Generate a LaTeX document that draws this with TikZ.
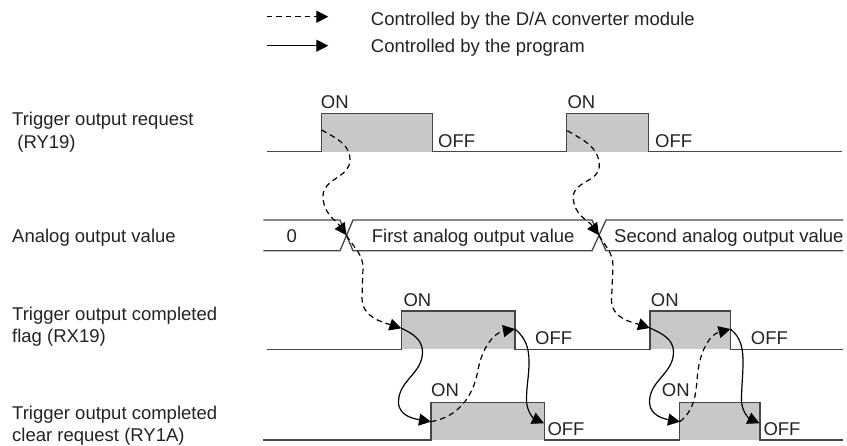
\documentclass[tikz,border=0pt]{standalone}
\usepackage{fontspec}
\setmainfont{Liberation Sans}
\usepackage{tikz}
\usetikzlibrary{arrows.meta}
\definecolor{wavegray}{RGB}{70,70,70}
\definecolor{pulsegray}{RGB}{200,200,200}
\definecolor{txtgray}{RGB}{35,35,35}

\begin{document}
\begin{tikzpicture}[x=1pt, y=1pt,
  wave/.style={draw=wavegray, line width=1.3pt},
  pulse/.style={fill=pulsegray},
  lbl/.style={font=\fontsize{18.5}{22.2}\selectfont, text=txtgray, inner sep=0pt},
  sig/.style={lbl, align=left, anchor=west},
  onoff/.style={lbl, anchor=base west},
  ctl/.style={-{Triangle[length=12pt, width=12pt]}, line width=1.2pt},
  dactl/.style={ctl, dash pattern=on 5.5pt off 4pt},
  prgctl/.style={ctl}
]
  \useasboundingbox (0,0) rectangle (847,-445);

  %% Legend
  \coordinate (legda0) at (266.7,-16.7);
  \coordinate (legda1) at (328.3,-16.7);
  \coordinate (legpg0) at (266.7,-45.7);
  \coordinate (legpg1) at (328.3,-45.7);
  \draw[dactl]  (legda0) -- (legda1);
  \draw[prgctl] (legpg0) -- (legpg1);
  \node[onoff] (legda) at (370.7,-25.8) {Controlled by the D/A converter module};
  \node[onoff] (legpg) at (370.7,-52.2) {Controlled by the program};

  %% Signal names (left column)
  \node[sig] (ry19) at (12,-132.2) {Trigger output request\\\ (RY19)};
  \node[sig] (aout) at (12,-237.5) {Analog output value};
  \node[sig] (rx19) at (12,-327)   {Trigger output completed\\flag (RX19)};
  \node[sig] (ry1a) at (12,-425.4) {Trigger output completed\\clear request (RY1A)};

  %% RY19 waveform
  \fill[pulse] (321.7,-113.3) rectangle (432.3,-151.7);
  \fill[pulse] (566.7,-113.3) rectangle (648.3,-151.7);
  \draw[wave] (266.7,-151.7) -| (321.7,-113.3) -| (432.3,-151.7)
              -| (566.7,-113.3) -| (648.3,-151.7) -- (841.7,-151.7);
  \node[onoff] (on1)  at (320.7,-108.3) {ON};
  \node[onoff] (off1) at (438,-147.7)   {OFF};
  \node[onoff] (on2)  at (567.3,-108.3) {ON};
  \node[onoff] (off2) at (655,-147.7)   {OFF};

  %% Analog output value (bus with two changes)
  \draw[wave] (263.3,-220) -- (340,-220) -- (353,-250.7) -- (592,-250.7)
              -- (606,-220) -- (843.3,-220);
  \draw[wave] (263.3,-250.7) -- (340,-250.7) -- (353,-220) -- (592,-220)
              -- (606,-250.7) -- (843.3,-250.7);
  \node[lbl, anchor=base] (val0) at (291.7,-242.3) {0};
  \node[onoff] (val1) at (371.7,-242.3) {First analog output value};
  \node[onoff] (val2) at (614,-242.3)   {Second analog output value};

  %% RX19 waveform
  \fill[pulse] (401.7,-311) rectangle (515,-349.3);
  \fill[pulse] (650,-311) rectangle (730.7,-349.3);
  \draw[wave] (266.7,-349.3) -| (401.7,-311) -| (515,-349.3)
              -| (650,-311) -| (730.7,-349.3) -- (843,-349.3);
  \node[onoff] (on3)  at (403.3,-306.7) {ON};
  \node[onoff] (off3) at (535,-344)     {OFF};
  \node[onoff] (on4)  at (650.7,-306.7) {ON};
  \node[onoff] (off4) at (750.7,-344)   {OFF};

  %% RY1A waveform
  \fill[pulse] (431,-402.3) rectangle (544.3,-440);
  \fill[pulse] (679.3,-402.3) rectangle (760,-440);
  \draw[wave] (263.3,-440) -| (431,-402.3) -| (544.3,-440)
              -| (679.3,-402.3) -| (760,-440) -- (843,-440);
  \node[onoff] (on5)  at (431,-396.7)   {ON};
  \node[onoff] (off5) at (547.3,-435)   {OFF};
  \node[onoff] (on6)  at (661.7,-396.7) {ON};
  \node[onoff] (off6) at (763.3,-435)   {OFF};

  %% Arrow end points on the waveforms
  \coordinate (ry19a)   at (321.7,-130);
  \coordinate (ry19b)   at (567.3,-130.7);
  \coordinate (cross1)  at (346.5,-235.3);
  \coordinate (cross2)  at (599,-235.3);
  \coordinate (rx19up1) at (401.5,-328.3);
  \coordinate (rx19up2) at (650,-328);
  \coordinate (rx19dn1) at (515,-329);
  \coordinate (rx19dn2) at (730.5,-329);
  \coordinate (ry1aup1) at (431,-421.7);
  \coordinate (ry1aup2) at (680,-421.7);
  \coordinate (ry1adn1) at (544,-423.3);
  \coordinate (ry1adn2) at (759.5,-423.3);

  %% First trigger
  \draw[dactl] (ry19a) to[out=-30,in=90] (350,-160) to[out=-90,in=90] (323,-196)
               to[out=-90,in=125] (cross1);
  \draw[dactl] (cross1) to[out=-60,in=90] (363,-268) -- (362,-298)
               to[out=-90,in=162] (rx19up1);
  \draw[prgctl] (rx19up1) to[out=-25,in=90] (422.5,-352) to[out=-90,in=90] (398.5,-402)
                to[out=-90,in=170] (ry1aup1);
  \draw[dactl] (ry1aup1) to[out=10,in=-100] (478,-370) to[out=80,in=190] (rx19dn1);
  \draw[prgctl] (rx19dn1) to[out=-40,in=90] (529,-362) to[out=-90,in=90] (526.5,-400)
                to[out=-90,in=155] (ry1adn1);

  %% Second trigger
  \draw[dactl] (ry19b) to[out=-30,in=90] (599.3,-166) to[out=-90,in=90] (573.3,-197)
               to[out=-90,in=125] (cross2);
  \draw[dactl] (cross2) to[out=-60,in=90] (613,-266) -- (611.5,-300)
               to[out=-90,in=162] (rx19up2);
  \draw[prgctl] (rx19up2) to[out=-25,in=90] (673.5,-352) to[out=-90,in=90] (649.5,-402)
                to[out=-90,in=170] (ry1aup2);
  \draw[dactl] (ry1aup2) to[out=40,in=-95] (697.5,-375) to[out=85,in=195] (rx19dn2);
  \draw[prgctl] (rx19dn2) to[out=-40,in=90] (743,-362) to[out=-90,in=90] (741.5,-400)
                to[out=-90,in=155] (ry1adn2);
\end{tikzpicture}
\end{document}
